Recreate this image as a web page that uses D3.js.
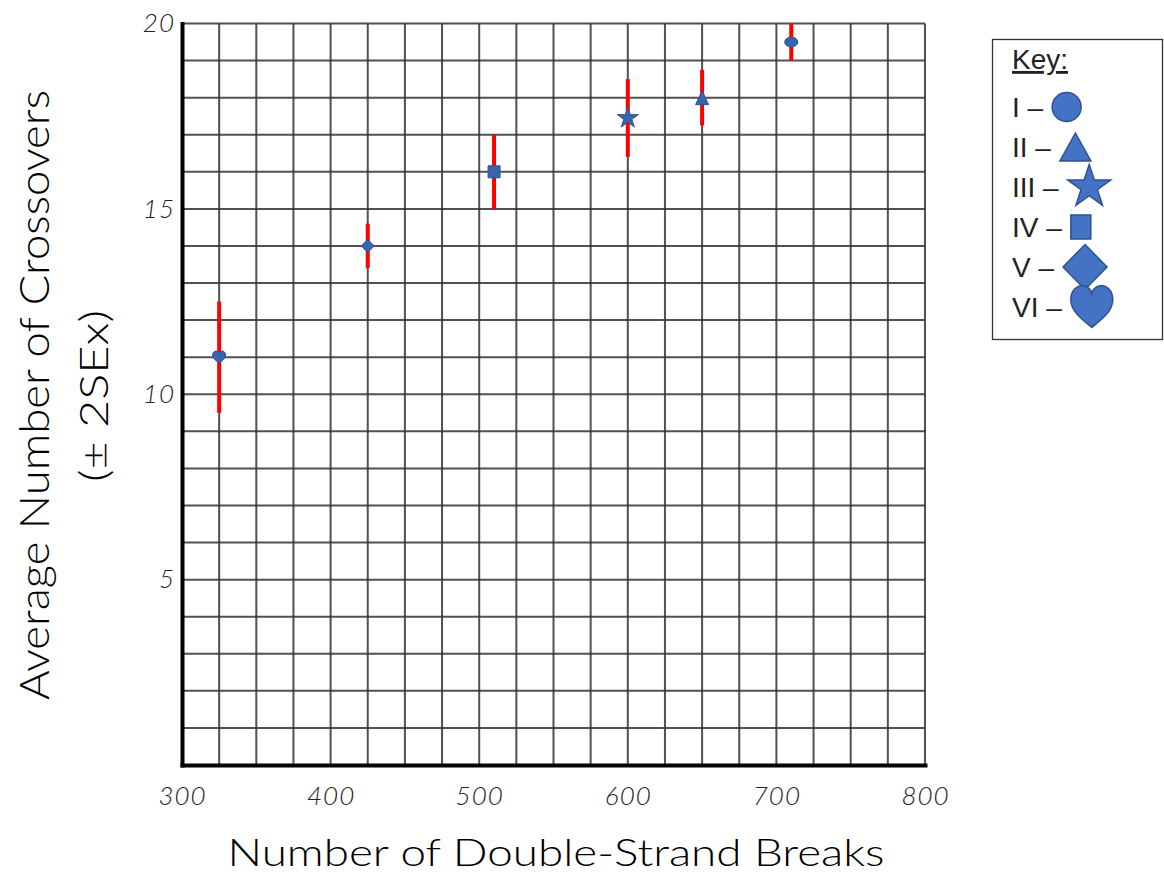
<!DOCTYPE html>
<html>
<head>
<meta charset="utf-8">
<script src="https://cdn.jsdelivr.net/npm/d3@7"></script>
<style>
  body { margin: 0; background: #fff; }
  svg { display: block; }
</style>
</head>
<body>
<script>
// values
const groups = ["VI", "V", "IV", "III", "II", "I"];
const dsbCounts = [325, 425, 510, 600, 650, 710];
const meanCrossovers = [11, 14, 16, 17.45, 18, 19.5];
const twoSE = [1.5, 0.6, 1.0, 1.05, 0.75, 0.5];

const xTicks = [300, 400, 500, 600, 700, 800];
const yTicks = [5, 10, 15, 20];

const keyLabels = ["I", "II", "III", "IV", "V", "VI"];
const keyShapes = ["circle", "triangle", "star", "square", "diamond", "heart"];

const width = 1164, height = 876;
const fill = "#4472C4", edge = "#2F528F";

let x = d3.scaleLinear().domain([300, 800]).range([182, 925]);
let y = d3.scaleLinear().domain([0, 20]).range([765, 23.5]);

// shape paths centered on 0,0
function shapePath(shape, w, h) {
    if (shape == "circle") {
        return `M${-w/2},0A${w/2},${h/2} 0 1,0 ${w/2},0A${w/2},${h/2} 0 1,0 ${-w/2},0Z`;
    }
    if (shape == "triangle") return `M0,${-h/2}L${w/2},${h/2}L${-w/2},${h/2}Z`;
    if (shape == "square") return `M${-w/2},${-h/2}h${w}v${h}h${-w}Z`;
    if (shape == "diamond") return `M0,${-h/2}L${w/2},0L0,${h/2}L${-w/2},0Z`;
    if (shape == "star") {
        const r = w / 1.902;
        return d3.symbol().type(d3.symbolStar).size(r * r / 0.8908130915292852)();
    }
    // heart
    const sx = w / 2, sy = h / 1.95;
    const p = (a, b) => `${a * sx},${b * sy}`;
    return `M${p(0,0.95)}C${p(-0.35,0.65)} ${p(-1,0.25)} ${p(-1,-0.35)}` +
        `C${p(-1,-0.8)} ${p(-0.65,-1)} ${p(-0.5,-1)}C${p(-0.2,-1)} ${p(0,-0.8)} ${p(0,-0.55)}` +
        `C${p(0,-0.8)} ${p(0.2,-1)} ${p(0.5,-1)}C${p(0.65,-1)} ${p(1,-0.8)} ${p(1,-0.35)}` +
        `C${p(1,0.25)} ${p(0.35,0.65)} ${p(0,0.95)}Z`;
}

const plotSize = {circle: [13, 10], triangle: [13, 14], star: [21, 0], square: [12, 12], diamond: [13, 13], heart: [13, 12]};
const keySize = {circle: [29, 29], triangle: [31, 28], star: [43, 0], square: [20, 24], diamond: [44, 45], heart: [42, 42]};

let svg = d3.select("body").append("svg")
    .attr("width", width)
    .attr("height", height);

// grid
let grid = svg.append("g")
    .attr("stroke", "#333")
    .attr("stroke-width", 2)
    .attr("stroke-opacity", 0.85);
grid.selectAll(".vline")
    .data(d3.range(325, 801, 25))
  .enter().append("line")
    .attr("x1", d => x(d)).attr("x2", d => x(d))
    .attr("y1", y(0)).attr("y2", y(20));
grid.selectAll(".hline")
    .data(d3.range(1, 21))
  .enter().append("line")
    .attr("x1", x(300)).attr("x2", x(800))
    .attr("y1", d => y(d)).attr("y2", d => y(d));

// axes
let yAxis = svg.append("g")
    .attr("transform", "translate(" + x(300) + ",0)")
    .call(d3.axisLeft(y).tickValues(yTicks).tickSize(0).tickPadding(7));
let xAxis = svg.append("g")
    .attr("transform", "translate(0," + y(0) + ")")
    .call(d3.axisBottom(x).tickValues(xTicks).tickSize(0).tickPadding(22));
svg.selectAll(".domain")
    .attr("stroke", "#000")
    .attr("stroke-width", 4)
    .attr("stroke-linecap", "square");
svg.selectAll(".tick text")
    .attr("fill", "#222")
    .style("font-family", "Lato, 'Open Sans', sans-serif")
    .style("font-weight", 300)
    .style("font-style", "italic")
    .style("font-size", "26px")
    .style("letter-spacing", "1px");

// error bars
const idx = d3.range(groups.length);
svg.selectAll(".err")
    .data(idx)
  .enter().append("line")
    .attr("x1", i => x(dsbCounts[i])).attr("x2", i => x(dsbCounts[i]))
    .attr("y1", i => y(Math.min(20, meanCrossovers[i] + twoSE[i])))
    .attr("y2", i => y(meanCrossovers[i] - twoSE[i]))
    .attr("stroke", "#ff0000")
    .attr("stroke-width", 4);

// markers
svg.selectAll(".mark")
    .data(idx)
  .enter().append("path")
    .attr("d", i => {
        const s = keyShapes[keyLabels.indexOf(groups[i])];
        return shapePath(s, plotSize[s][0], plotSize[s][1]);
    })
    .attr("transform", i => "translate(" + x(dsbCounts[i]) + "," + y(meanCrossovers[i]) + ")")
    .attr("fill", "#3763B0")
    .attr("stroke", edge)
    .attr("stroke-width", 1);

// axis titles
svg.append("text")
    .attr("transform", "translate(49,395) rotate(-90)")
    .attr("text-anchor", "middle")
    .attr("textLength", 610)
    .attr("lengthAdjust", "spacingAndGlyphs")
    .style("font-family", "Lato, sans-serif")
    .style("font-weight", 300)
    .style("font-size", "42px")
    .text("Average Number of Crossovers");
svg.append("text")
    .attr("transform", "translate(108,396) rotate(-90)")
    .attr("text-anchor", "middle")
    .attr("textLength", 172)
    .attr("lengthAdjust", "spacingAndGlyphs")
    .style("font-family", "Lato, sans-serif")
    .style("font-weight", 300)
    .style("font-size", "40px")
    .text("(± 2SEx)");
svg.append("text")
    .attr("x", 556)
    .attr("y", 866)
    .attr("text-anchor", "middle")
    .attr("textLength", 657)
    .attr("lengthAdjust", "spacingAndGlyphs")
    .style("font-family", "Lato, sans-serif")
    .style("font-weight", 300)
    .style("font-size", "37px")
    .text("Number of Double-Strand Breaks");

// key
let key = svg.append("g");
key.append("rect")
    .attr("x", 992.5).attr("y", 39.5)
    .attr("width", 170).attr("height", 300)
    .attr("fill", "none")
    .attr("stroke", "#333")
    .attr("stroke-width", 1.3);
key.append("text")
    .attr("x", 1012).attr("y", 69)
    .style("font-family", "'Liberation Sans Narrow', 'Liberation Sans', Arial, sans-serif")
    .style("font-size", "28px")
    .style("text-decoration", "underline")
    .attr("fill", "#222")
    .text("Key:");

keyLabels.forEach((lab, i) => {
    const base = 117 + i * 40;
    const t = key.append("text")
        .attr("x", 1012).attr("y", base)
        .style("font-family", "'Liberation Sans Narrow', 'Liberation Sans', Arial, sans-serif")
        .style("font-size", "28px")
        .attr("fill", "#222")
        .text(lab + " \u2013");
    const s = keyShapes[i];
    const w = keySize[s][0];
    const cx = 1012 + t.node().getComputedTextLength() + 9 + w / 2;
    key.append("path")
        .attr("d", shapePath(s, w, keySize[s][1]))
        .attr("transform", "translate(" + cx + "," + (base - 10) + ")")
        .attr("fill", fill)
        .attr("stroke", edge)
        .attr("stroke-width", 1.5);
});
</script>
</body>
</html>
